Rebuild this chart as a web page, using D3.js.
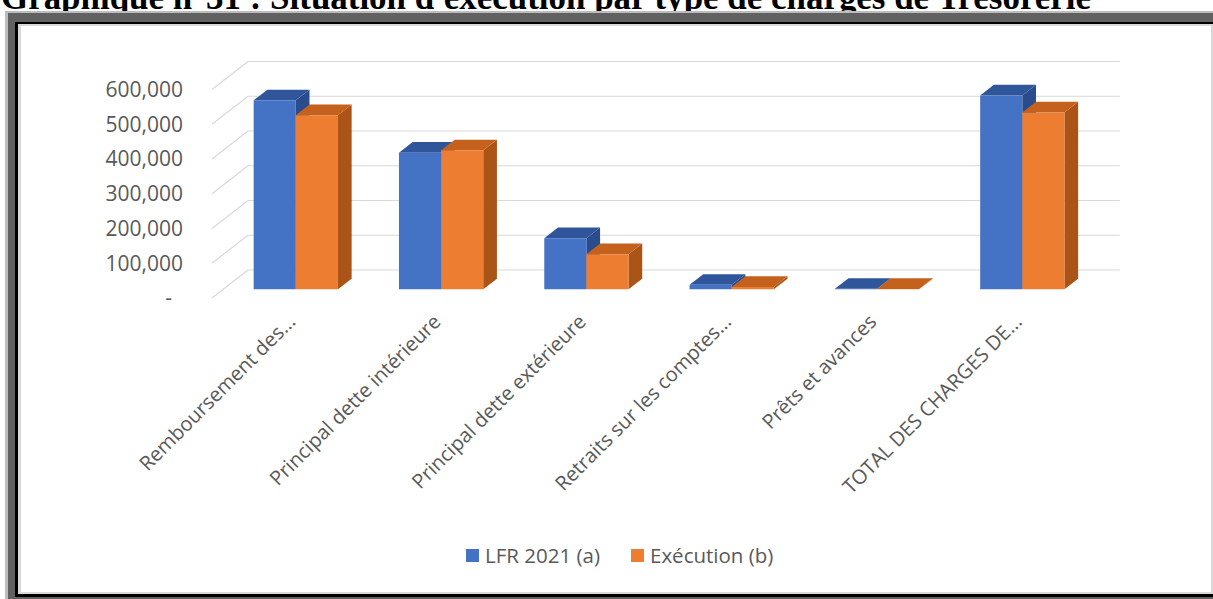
<!DOCTYPE html>
<html>
<head>
<meta charset="utf-8">
<script src="https://cdn.jsdelivr.net/npm/d3@7"></script>
<style>
body { margin: 0; background: #fff; }
svg { display: block; }
</style>
</head>
<body>
<div id="chart"></div>
<script>
// chart data
var categories = ["Remboursement des...", "Principal dette intérieure", "Principal dette extérieure",
  "Retraits sur les comptes...", "Prêts et avances", "TOTAL DES CHARGES DE..."];
var seriesNames = ["LFR 2021 (a)", "Exécution (b)"];
var lfrValues = [544000, 393000, 147000, 13000, 1500, 558000];
var execValues = [501000, 400000, 101000, 7000, 1000, 509000];
var yTicks = [0, 100000, 200000, 300000, 400000, 500000, 600000];
var yTickLabels = ["-", "100,000", "200,000", "300,000", "400,000", "500,000", "600,000"];
var titleText = "Graphique n°31 : Situation d'exécution par type de charges de Trésorerie";

var frontColors = ["#4472C4", "#ED7D31"];
var topColors = ["#2F559B", "#C4611D"];
var sideColors = ["#2B4C8C", "#AA5418"];

var svgWidth = 1213;
var svgHeight = 599;

// oblique 3d: floor front edge and depth vector
var floorY = 298;
var depthX = 36;
var depthY = -28;
var zFront = 0.31;
var zBack = 0.69;

var svg = d3.select("#chart")
  .append("svg")
  .attr("width", svgWidth)
  .attr("height", svgHeight);

// title (cut off at top of the page)
svg.append("text")
  .attr("x", 1)
  .attr("y", 9)
  .attr("font-family", "'Liberation Serif', 'Times New Roman', serif")
  .attr("font-weight", "bold")
  .attr("font-size", 35)
  .attr("textLength", 1090)
  .attr("lengthAdjust", "spacingAndGlyphs")
  .text(titleText);

// frame
svg.append("rect").attr("x", 5).attr("y", 11).attr("width", 1220).attr("height", 600).attr("fill", "#bdbdbd");
svg.append("rect").attr("x", 8).attr("y", 13).attr("width", 1220).attr("height", 600).attr("fill", "#616161");
svg.append("rect").attr("x", 15).attr("y", 22).attr("width", 1205).attr("height", 575).attr("fill", "#000");
svg.append("rect").attr("x", 18).attr("y", 24).attr("width", 1198).attr("height", 570).attr("fill", "#d9d9d9");
svg.append("rect").attr("x", 21).attr("y", 26).attr("width", 1190).attr("height", 566).attr("fill", "#fff");

var x0 = d3.scaleBand()
  .domain(categories)
  .range([212, 212 + 6 * 145.3])
  .paddingInner(0.42)
  .paddingOuter(0.21);

var x1 = d3.scaleBand()
  .domain(seriesNames)
  .range([0, x0.bandwidth()]);

var yScale = d3.scaleLinear()
  .domain([0, 600000])
  .range([0, 208.5]);

function proj(x, h, z) {
  return [x + z * depthX, floorY + z * depthY - h];
}

var chartGroup = svg.append("g");

// side wall + back wall gridlines
var grid = chartGroup.append("g")
  .attr("stroke", "#d9d9d9")
  .attr("stroke-width", 1.2)
  .attr("fill", "none");

grid.selectAll(".side")
  .data(yTicks)
  .enter()
  .append("line")
  .attr("x1", d => proj(212, yScale(d), 0)[0])
  .attr("y1", d => proj(212, yScale(d), 0)[1])
  .attr("x2", d => proj(212, yScale(d), 1)[0])
  .attr("y2", d => proj(212, yScale(d), 1)[1]);

grid.selectAll(".back")
  .data(yTicks)
  .enter()
  .append("line")
  .attr("x1", d => proj(212, yScale(d), 1)[0])
  .attr("y1", d => proj(212, yScale(d), 1)[1])
  .attr("x2", d => proj(x0.range()[1], yScale(d), 1)[0])
  .attr("y2", d => proj(x0.range()[1], yScale(d), 1)[1]);

// y labels
chartGroup.selectAll(".ylab")
  .data(yTicks)
  .enter()
  .append("text")
  .attr("x", (d, i) => yTickLabels[i] === "-" ? 172 : 183)
  .attr("y", d => proj(212, yScale(d), 0)[1])
  .attr("dy", "0.35em")
  .attr("text-anchor", "end")
  .attr("font-family", "'Open Sans', sans-serif")
  .attr("font-size", 21)
  .attr("fill", "#595959")
  .text((d, i) => yTickLabels[i]);

// bars
var barData = [];
categories.forEach(function(c, i) {
  barData.push({cat: c, s: 0, value: lfrValues[i]});
  barData.push({cat: c, s: 1, value: execValues[i]});
});

function poly(pts) {
  return pts.map(p => p.join(",")).join(" ");
}

var bars = chartGroup.selectAll(".bar")
  .data(barData)
  .enter()
  .append("g");

bars.each(function(d) {
  var g = d3.select(this);
  var l = x0(d.cat) + x1(seriesNames[d.s]);
  var w = x1.bandwidth();
  var h = yScale(d.value);
  g.append("polygon")
    .attr("points", poly([proj(l + w, 0, zFront), proj(l + w, h, zFront), proj(l + w, h, zBack), proj(l + w, 0, zBack)]))
    .attr("fill", sideColors[d.s]);
  g.append("polygon")
    .attr("points", poly([proj(l, h, zFront), proj(l + w, h, zFront), proj(l + w, h, zBack), proj(l, h, zBack)]))
    .attr("fill", topColors[d.s]);
  g.append("polygon")
    .attr("points", poly([proj(l, 0, zFront), proj(l + w, 0, zFront), proj(l + w, h, zFront), proj(l, h, zFront)]))
    .attr("fill", frontColors[d.s]);
});

// category labels, rotated
chartGroup.selectAll(".xlab")
  .data(categories)
  .enter()
  .append("text")
  .attr("transform", d => `translate(${x0(d) + x0.bandwidth() / 2 + 7}, 318) rotate(-45)`)
  .attr("text-anchor", "end")
  .attr("dy", "0.35em")
  .attr("font-family", "'Open Sans', sans-serif")
  .attr("font-size", 20)
  .attr("fill", "#595959")
  .text(d => d);

// legend
var legendX = [466, 631];
var legend = svg.selectAll(".legend")
  .data(seriesNames)
  .enter()
  .append("g")
  .attr("transform", (d, i) => `translate(${legendX[i]}, 549)`);

legend.append("rect")
  .attr("width", 13)
  .attr("height", 13)
  .attr("fill", (d, i) => frontColors[i]);

legend.append("text")
  .attr("x", 19)
  .attr("y", 6.5)
  .attr("dy", "0.35em")
  .attr("font-family", "'Open Sans', sans-serif")
  .attr("font-size", 20.5)
  .attr("fill", "#595959")
  .text(d => d);
</script>
</body>
</html>
